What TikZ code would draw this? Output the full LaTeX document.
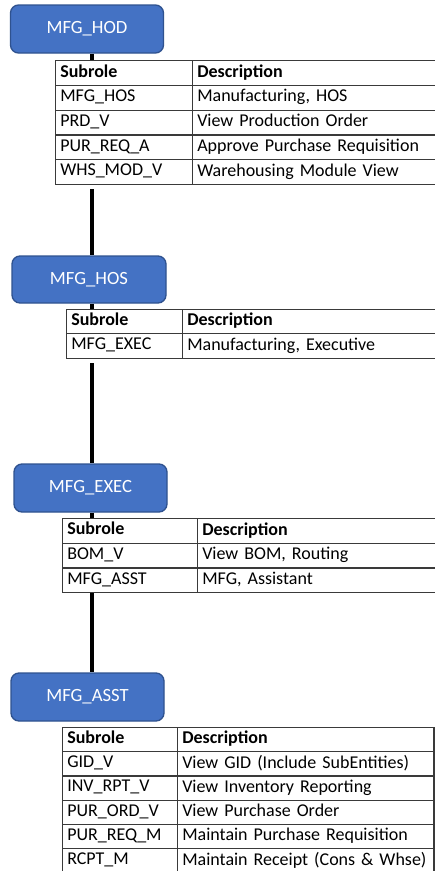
\documentclass[tikz,border=0pt]{standalone}
\usepackage{fontspec}
\setmainfont{Carlito}
\usetikzlibrary{backgrounds}
\definecolor{boxblue}{HTML}{4472C4}
\definecolor{boxedge}{HTML}{2F528F}
\definecolor{gridcol}{HTML}{3A3A3A}
\tikzset{
  rolebox/.style={draw=boxedge, line width=1pt, fill=boxblue, rounded corners=6pt,
    minimum width=114.75pt, minimum height=36pt, inner sep=0pt, text=white,
    font=\fontsize{14}{16}\selectfont},
  cell/.style={draw=gridcol, line width=0.9pt, fill=white, anchor=north west,
    inner xsep=3.5pt, inner ysep=0pt, align=left, text=black,
    font=\fontsize{13.5}{15}\selectfont},
  conn/.style={draw=black, line width=3pt},
  strip/.style={fill=white}
}
\newcommand{\tcell}[6]{\node[cell, text width=#4, minimum height=#5] (#1) at (#2,#3) {\rule[-3.4pt]{0pt}{12.4pt}#6};}
\begin{document}
\begin{tikzpicture}[x=0.75pt,y=-0.75pt]
\clip (0,0) rectangle (435,871);
\coordinate (lx) at (92,0);
% role boxes
\node[rolebox] (hod) at (87,29) {MFG\_HOD};
\node[rolebox, minimum width=115.5pt, minimum height=35.25pt] (hos) at (89,279.5) {MFG\_HOS};
\node[rolebox] (exec) at (90.5,488) {MFG\_EXEC};
\node[rolebox] (asst) at (87.5,697) {MFG\_ASST};
% table 1
\tcell{a1}{55}{60}{96.75pt}{18.6pt}{\textbf{Subrole}}
\tcell{b1}{192}{60}{183.75pt}{18.6pt}{\textbf{Description}}
\tcell{a2}{55}{84.8}{96.75pt}{18.6pt}{MFG\_HOS}
\tcell{b2}{192}{84.8}{183.75pt}{18.6pt}{Manufacturing, HOS}
\tcell{a3}{55}{109.6}{96.75pt}{18.6pt}{PRD\_V}
\tcell{b3}{192}{109.6}{183.75pt}{18.6pt}{View Production Order}
\tcell{a4}{55}{134.4}{96.75pt}{18.6pt}{PUR\_REQ\_A}
\tcell{b4}{192}{134.4}{183.75pt}{18.6pt}{Approve Purchase Requisition}
\tcell{a5}{55}{159.2}{96.75pt}{18.6pt}{WHS\_MOD\_V}
\tcell{b5}{192}{159.2}{183.75pt}{18.6pt}{Warehousing Module View}
% table 2
\tcell{c1}{66}{308.5}{81pt}{18.56pt}{\textbf{Subrole}}
\tcell{d1}{182}{308.5}{191.25pt}{18.56pt}{\textbf{Description}}
\tcell{c2}{66}{333.25}{81pt}{18.56pt}{MFG\_EXEC}
\tcell{d2}{182}{333.25}{191.25pt}{18.56pt}{Manufacturing, Executive}
% table 3
\tcell{e1}{62}{518}{95.25pt}{18.5pt}{\textbf{Subrole}}
\tcell{f1}{197}{518}{180pt}{18.5pt}{\textbf{Description}}
\tcell{e2}{62}{542.7}{95.25pt}{18.5pt}{BOM\_V}
\tcell{f2}{197}{542.7}{180pt}{18.5pt}{View BOM, Routing}
\tcell{e3}{62}{567.4}{95.25pt}{18.5pt}{MFG\_ASST}
\tcell{f3}{197}{567.4}{180pt}{18.5pt}{MFG, Assistant}
% table 4
\tcell{g1}{62}{727}{80.25pt}{18.15pt}{\textbf{Subrole}}
\tcell{h1}{177}{727}{185.25pt}{18.15pt}{\textbf{Description}}
\tcell{g2}{62}{751.2}{80.25pt}{18.15pt}{GID\_V}
\tcell{h2}{177}{751.2}{185.25pt}{18.15pt}{View GID (Include SubEntities)}
\tcell{g3}{62}{775.4}{80.25pt}{18.15pt}{INV\_RPT\_V}
\tcell{h3}{177}{775.4}{185.25pt}{18.15pt}{View Inventory Reporting}
\tcell{g4}{62}{799.6}{80.25pt}{18.15pt}{PUR\_ORD\_V}
\tcell{h4}{177}{799.6}{185.25pt}{18.15pt}{View Purchase Order}
\tcell{g5}{62}{823.8}{80.25pt}{18.15pt}{PUR\_REQ\_M}
\tcell{h5}{177}{823.8}{185.25pt}{18.15pt}{Maintain Purchase Requisition}
\tcell{g6}{62}{848}{80.25pt}{18.15pt}{RCPT\_M}
\tcell{h6}{177}{848}{185.25pt}{18.15pt}{Maintain Receipt (Cons \& Whse)}
% connectors behind
\begin{pgfonlayer}{background}
\fill[white] (0,0) rectangle (435,871);
\draw[conn] (hod.south -| lx) -- (hos.north -| lx);
\draw[conn] (hos.south -| lx) -- (exec.north -| lx);
\draw[conn] (exec.south -| lx) -- (asst.north -| lx);
\fill[strip] (a5.south west) rectangle ([yshift=-3pt]b5.south east);
\fill[strip] (c2.south west) rectangle ([yshift=-3pt]d2.south east);
\end{pgfonlayer}
\end{tikzpicture}
\end{document}
